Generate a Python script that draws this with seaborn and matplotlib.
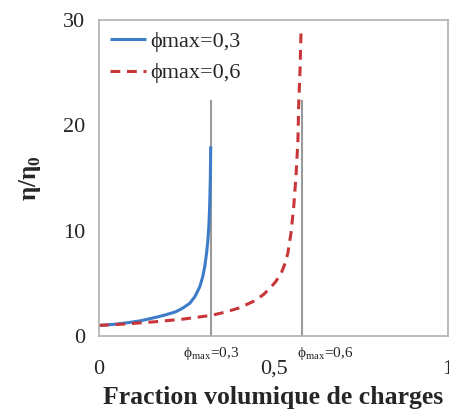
import pandas as pd
import matplotlib
matplotlib.use('Agg')
import matplotlib.pyplot as plt
import seaborn as sns

# courbes (phi, eta/eta0)
phi_03 = [0, 0.04, 0.08, 0.12, 0.16, 0.19, 0.22, 0.24, 0.26, 0.275, 0.289,
          0.297, 0.303, 0.308, 0.312, 0.315, 0.317, 0.319, 0.32]
eta_03 = [1.0, 1.1, 1.25, 1.45, 1.75, 2.0, 2.3, 2.65, 3.1, 3.75, 4.7,
          5.6, 6.6, 7.8, 9.1, 10.6, 12.3, 15.0, 18.0]

phi_06 = [0, 0.08, 0.16, 0.24, 0.32, 0.36, 0.40, 0.441, 0.47, 0.489, 0.506,
          0.522, 0.532, 0.541, 0.55, 0.558, 0.565, 0.57, 0.572, 0.576, 0.579]
eta_06 = [1.0, 1.15, 1.35, 1.6, 1.95, 2.25, 2.65, 3.26, 3.9, 4.5, 5.15,
          5.95, 6.8, 7.85, 9.75, 12.3, 15.5, 18.6, 21.8, 25.3, 29.1]

series_names = ['\u03d5max=0,3', '\u03d5max=0,6']

# lignes verticales phi_max
phimax_x = [0.32, 0.582]
phimax_top = [22.4, 22.4]
phimax_labels = ['\u03d5$_{\\mathregular{max}}$=0,3', '\u03d5$_{\\mathregular{max}}$=0,6']

xticks = [0, 0.5, 1]
xtick_labels = ['0', '0,5', '1']
yticks = [0, 10, 20, 30]

df = pd.concat([
    pd.DataFrame({'phi': phi_03, 'eta': eta_03, 'serie': series_names[0]}),
    pd.DataFrame({'phi': phi_06, 'eta': eta_06, 'serie': series_names[1]}),
])

sns.set_style('white')
plt.rcParams['font.family'] = ['Liberation Serif', 'DejaVu Serif']
plt.rcParams['mathtext.fontset'] = 'custom'
plt.rcParams['mathtext.rm'] = 'Liberation Serif'

fig = plt.figure(figsize=(4.49, 4.09), dpi=100)
ax = fig.add_axes([0.2205, 0.1785, 0.7773, 0.7725])

sns.lineplot(data=df, x='phi', y='eta', hue='serie', style='serie',
             palette=['#3d7cc9', '#c8363a'], dashes=[(1, 0), (3.2, 2.2)],
             linewidth=2.2, sort=True, ax=ax)

ax.vlines(phimax_x, 0, phimax_top, color='#9a9a9a', linewidth=1.5, zorder=1)

ax.text(phimax_x[0], -1.7, phimax_labels[0], ha='center', va='center',
        fontsize=11, clip_on=False)
ax.text(0.566, -1.7, phimax_labels[1], ha='left', va='center',
        fontsize=11, clip_on=False)

ax.set_xlim(0, 1)
ax.set_ylim(0, 30)
ax.set_xticks(xticks)
ax.set_xticklabels(xtick_labels, fontsize=16)
ax.set_yticks(yticks)
ax.tick_params(axis='y', labelsize=16, length=7, width=1, color='#b0b0b0', pad=3)
ax.tick_params(axis='x', length=5, width=1, color='#b0b0b0', pad=12)

for s in ax.spines.values():
    s.set_color('#b0b0b0')
    s.set_linewidth(1.2)

ax.set_xlabel('Fraction volumique de charges', fontsize=18.5, fontweight='bold', labelpad=5)
ax.set_ylabel('\u03b7/\u03b7$_{\\mathregular{0}}$', fontsize=18, fontweight='bold', labelpad=14)

leg = ax.legend(loc='upper left', frameon=False, fontsize=16, handlelength=1.6,
                handletextpad=0.2, borderaxespad=0.1, labelspacing=0.5,
                bbox_to_anchor=(0.0, 1.0))

fig.savefig('out.png', dpi=100)
